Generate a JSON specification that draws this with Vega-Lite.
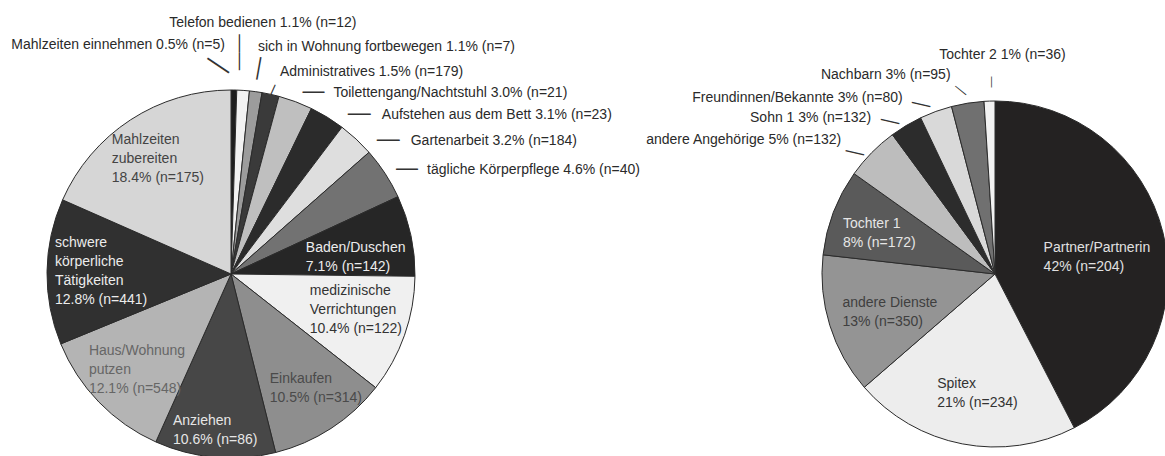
{
  "$schema": "https://vega.github.io/schema/vega-lite/v6.json",
  "background": "white",
  "padding": {"top": 14, "left": 0, "right": 0, "bottom": 0},
  "bounds": "flush",
  "spacing": 363,
  "datasets": {
    "left": [
      {"k": 1, "name": "Mahlzeiten einnehmen", "pct": 0.5, "n": 5, "label": "Mahlzeiten einnehmen 0.5% (n=5)"},
      {"k": 2, "name": "Telefon bedienen", "pct": 1.1, "n": 12, "label": "Telefon bedienen 1.1% (n=12)"},
      {"k": 3, "name": "sich in Wohnung fortbewegen", "pct": 1.1, "n": 7, "label": "sich in Wohnung fortbewegen 1.1% (n=7)"},
      {"k": 4, "name": "Administratives", "pct": 1.5, "n": 179, "label": "Administratives 1.5% (n=179)"},
      {"k": 5, "name": "Toilettengang/Nachtstuhl", "pct": 3.0, "n": 21, "label": "Toilettengang/Nachtstuhl 3.0% (n=21)"},
      {"k": 6, "name": "Aufstehen aus dem Bett", "pct": 3.1, "n": 23, "label": "Aufstehen aus dem Bett 3.1% (n=23)"},
      {"k": 7, "name": "Gartenarbeit", "pct": 3.2, "n": 184, "label": "Gartenarbeit 3.2% (n=184)"},
      {"k": 8, "name": "tägliche Körperpflege", "pct": 4.6, "n": 40, "label": "tägliche Körperpflege 4.6% (n=40)"},
      {"k": 9, "name": "Baden/Duschen", "pct": 7.1, "n": 142, "label": "Baden/Duschen\n7.1% (n=142)"},
      {"k": 10, "name": "medizinische Verrichtungen", "pct": 10.4, "n": 122, "label": "medizinische\nVerrichtungen\n10.4% (n=122)"},
      {"k": 11, "name": "Einkaufen", "pct": 10.5, "n": 314, "label": "Einkaufen\n10.5% (n=314)"},
      {"k": 12, "name": "Anziehen", "pct": 10.6, "n": 86, "label": "Anziehen\n10.6% (n=86)"},
      {"k": 13, "name": "Haus/Wohnung putzen", "pct": 12.1, "n": 548, "label": "Haus/Wohnung\nputzen\n12.1% (n=548)"},
      {"k": 14, "name": "schwere körperliche Tätigkeiten", "pct": 12.8, "n": 441, "label": "schwere\nkörperliche\nTätigkeiten\n12.8% (n=441)"},
      {"k": 15, "name": "Mahlzeiten zubereiten", "pct": 18.4, "n": 175, "label": "Mahlzeiten\nzubereiten\n18.4% (n=175)"}
    ],
    "right": [
      {"k": 1, "name": "Partner/Partnerin", "pct": 42, "n": 204, "label": "Partner/Partnerin\n42% (n=204)"},
      {"k": 2, "name": "Spitex", "pct": 21, "n": 234, "label": "Spitex\n21% (n=234)"},
      {"k": 3, "name": "andere Dienste", "pct": 13, "n": 350, "label": "andere Dienste\n13% (n=350)"},
      {"k": 4, "name": "Tochter 1", "pct": 8, "n": 172, "label": "Tochter 1\n8% (n=172)"},
      {"k": 5, "name": "andere Angehörige", "pct": 5, "n": 132, "label": "andere Angehörige 5% (n=132)"},
      {"k": 6, "name": "Sohn 1", "pct": 3, "n": 132, "label": "Sohn 1 3% (n=132)"},
      {"k": 7, "name": "Freundinnen/Bekannte", "pct": 3, "n": 80, "label": "Freundinnen/Bekannte 3% (n=80)"},
      {"k": 8, "name": "Nachbarn", "pct": 3, "n": 95, "label": "Nachbarn 3% (n=95)"},
      {"k": 9, "name": "Tochter 2", "pct": 1, "n": 36, "label": "Tochter 2 1% (n=36)"}
    ]
  },
  "hconcat": [
    {
      "width": 456,
      "height": 368,
      "data": {"name": "left"},
      "encoding": {
        "theta": {"field": "pct", "type": "quantitative", "stack": true},
        "order": {"field": "k", "type": "quantitative"}
      },
      "layer": [
        {
          "mark": {"type": "arc", "stroke": "#2b2b2b", "strokeWidth": 1},
          "encoding": {
            "color": {
              "field": "name", "type": "nominal", "legend": null,
              "scale": {
                "domain": ["Mahlzeiten einnehmen", "Telefon bedienen", "sich in Wohnung fortbewegen", "Administratives", "Toilettengang/Nachtstuhl", "Aufstehen aus dem Bett", "Gartenarbeit", "tägliche Körperpflege", "Baden/Duschen", "medizinische Verrichtungen", "Einkaufen", "Anziehen", "Haus/Wohnung putzen", "schwere körperliche Tätigkeiten", "Mahlzeiten zubereiten"],
                "range": ["#1e1e1e", "#f2f2f2", "#9c9c9c", "#3a3a3a", "#bfbfbf", "#2b2b2b", "#dedede", "#727272", "#262626", "#f0f0f0", "#8e8e8e", "#474747", "#b4b4b4", "#303030", "#d6d6d6"]
              }
            }
          }
        },
        {
          "mark": {"type": "text", "radius": 137, "thetaOffset": -0.003, "align": "left", "dx": -44, "dy": -19, "baseline": "middle", "lineBreak": "\n", "lineHeight": 19},
          "encoding": {
            "text": {"condition": {"test": "indexof(['Mahlzeiten zubereiten','Haus/Wohnung putzen'], datum.name) >= 0", "field": "label"}, "value": ""},
            "color": {"condition": {"test": "datum.name === 'Haus/Wohnung putzen'", "value": "#666666"}, "value": "#444444"}
          }
        },
        {
          "mark": {"type": "text", "radius": 132, "thetaOffset": 0.004, "align": "left", "dx": -44, "dy": -28.5, "baseline": "middle", "lineBreak": "\n", "lineHeight": 19, "color": "#ececec"},
          "encoding": {
            "text": {"condition": {"test": "datum.name === 'schwere körperliche Tätigkeiten'", "field": "label"}, "value": ""}
          }
        },
        {
          "mark": {"type": "text", "radius": 142, "thetaOffset": -0.056, "align": "left", "dx": -45, "dy": -9.5, "baseline": "middle", "lineBreak": "\n", "lineHeight": 19, "color": "#4a4a4a"},
          "encoding": {
            "text": {"condition": {"test": "datum.name === 'Einkaufen'", "field": "label"}, "value": ""}
          }
        },
        {
          "mark": {"type": "text", "radius": 123, "thetaOffset": 0.073, "align": "left", "dx": -47, "dy": -9.5, "baseline": "middle", "lineBreak": "\n", "lineHeight": 19, "color": "#ececec"},
          "encoding": {
            "text": {"condition": {"test": "datum.name === 'Baden/Duschen'", "field": "label"}, "value": ""}
          }
        },
        {
          "mark": {"type": "text", "radius": 127, "thetaOffset": -0.052, "align": "left", "dx": -43, "dy": -19, "baseline": "middle", "lineBreak": "\n", "lineHeight": 19, "color": "#333333"},
          "encoding": {
            "text": {"condition": {"test": "datum.name === 'medizinische Verrichtungen'", "field": "label"}, "value": ""}
          }
        },
        {
          "mark": {"type": "text", "radius": 157, "thetaOffset": 0.021, "align": "left", "dx": -41, "dy": -9.5, "baseline": "middle", "lineBreak": "\n", "lineHeight": 19, "color": "#e6e6e6"},
          "encoding": {
            "text": {"condition": {"test": "datum.name === 'Anziehen'", "field": "label"}, "value": ""}
          }
        },
        {
          "mark": {"type": "text", "radius": 195, "thetaOffset": 0.017, "align": "left", "dx": 31, "baseline": "middle"},
          "encoding": {
            "text": {"condition": {"test": "indexof(['Toilettengang/Nachtstuhl','tägliche Körperpflege'], datum.name) >= 0", "field": "label"}, "value": ""}
          }
        },
        {
          "mark": {"type": "text", "radius": 195, "thetaOffset": 0.017, "align": "left", "dy": -2, "baseline": "middle", "font": "Liberation Sans", "fontSize": 22, "color": "#333333"},
          "encoding": {
            "text": {"condition": {"test": "indexof(['Toilettengang/Nachtstuhl','tägliche Körperpflege'], datum.name) >= 0", "value": "—"}, "value": ""}
          }
        },
        {
          "mark": {"type": "text", "radius": 197, "thetaOffset": 0.085, "align": "left", "dx": 34, "baseline": "middle"},
          "encoding": {
            "text": {"condition": {"test": "indexof(['Aufstehen aus dem Bett','Gartenarbeit'], datum.name) >= 0", "field": "label"}, "value": ""}
          }
        },
        {
          "mark": {"type": "text", "radius": 197, "thetaOffset": 0.085, "align": "left", "dy": -2, "baseline": "middle", "font": "Liberation Sans", "fontSize": 23, "color": "#333333"},
          "encoding": {
            "text": {"condition": {"test": "indexof(['Aufstehen aus dem Bett','Gartenarbeit'], datum.name) >= 0", "value": "—"}, "value": ""}
          }
        },
        {
          "mark": {"type": "text", "radius": 200, "thetaOffset": 0.094, "dy": -54, "align": "center", "baseline": "middle"},
          "encoding": {
            "text": {"condition": {"test": "datum.name === 'Telefon bedienen'", "field": "label"}, "value": ""}
          }
        },
        {
          "mark": {"type": "text", "radius": 222, "thetaOffset": -0.026, "angle": 90, "align": "center", "baseline": "middle", "font": "Liberation Sans", "fontSize": 18, "color": "#333333"},
          "encoding": {
            "text": {"condition": {"test": "datum.name === 'Telefon bedienen'", "value": "——"}, "value": ""}
          }
        },
        {
          "mark": {"type": "text", "radius": 200, "thetaOffset": -0.0457, "dy": -29, "align": "right", "baseline": "middle"},
          "encoding": {
            "text": {"condition": {"test": "datum.name === 'Mahlzeiten einnehmen'", "field": "label"}, "value": ""}
          }
        },
        {
          "mark": {"type": "text", "radius": 210, "thetaOffset": -0.073, "angle": 34, "align": "center", "baseline": "middle", "font": "Liberation Sans", "fontSize": 26, "color": "#333333"},
          "encoding": {
            "text": {"condition": {"test": "datum.name === 'Mahlzeiten einnehmen'", "value": "—"}, "value": ""}
          }
        },
        {
          "mark": {"type": "text", "radius": 200, "thetaOffset": 0.0, "dy": -29, "align": "left", "baseline": "middle"},
          "encoding": {
            "text": {"condition": {"test": "datum.name === 'sich in Wohnung fortbewegen'", "field": "label"}, "value": ""}
          }
        },
        {
          "mark": {"type": "text", "radius": 207.5, "thetaOffset": 0.005, "angle": 100, "align": "center", "baseline": "middle", "font": "Liberation Sans", "fontSize": 23, "color": "#333333"},
          "encoding": {
            "text": {"condition": {"test": "datum.name === 'sich in Wohnung fortbewegen'", "value": "—"}, "value": ""}
          }
        },
        {
          "mark": {"type": "text", "radius": 208, "thetaOffset": 0.021, "align": "left", "baseline": "middle"},
          "encoding": {
            "text": {"condition": {"test": "datum.name === 'Administratives'", "field": "label"}, "value": ""}
          }
        },
        {
          "mark": {"type": "text", "radius": 189, "thetaOffset": 0.007, "angle": 114, "align": "center", "baseline": "middle", "font": "Liberation Sans", "fontSize": 11, "fontWeight": "bold", "color": "#333333"},
          "encoding": {
            "text": {"condition": {"test": "datum.name === 'Administratives'", "value": "—"}, "value": ""}
          }
        }
      ]
    },
    {
      "width": 346,
      "height": 368,
      "data": {"name": "right"},
      "encoding": {
        "theta": {"field": "pct", "type": "quantitative", "stack": true},
        "order": {"field": "k", "type": "quantitative"}
      },
      "layer": [
        {
          "mark": {"type": "arc", "stroke": "#2b2b2b", "strokeWidth": 1},
          "encoding": {
            "color": {
              "field": "name", "type": "nominal", "legend": null,
              "scale": {
                "domain": ["Partner/Partnerin", "Spitex", "andere Dienste", "Tochter 1", "andere Angehörige", "Sohn 1", "Freundinnen/Bekannte", "Nachbarn", "Tochter 2"],
                "range": ["#242222", "#ededed", "#949494", "#5a5a5a", "#bdbdbd", "#2c2c2c", "#d9d9d9", "#707070", "#f2f2f2"]
              }
            }
          }
        },
        {
          "mark": {"type": "text", "radius": 100, "thetaOffset": 0.07, "align": "left", "dx": -50, "dy": -9.5, "baseline": "middle", "lineBreak": "\n", "lineHeight": 19, "color": "#e0e0e0"},
          "encoding": {
            "text": {"condition": {"test": "datum.name === 'Partner/Partnerin'", "field": "label"}, "value": ""}
          }
        },
        {
          "mark": {"type": "text", "radius": 121, "thetaOffset": -0.026, "align": "left", "dx": -38, "dy": -9.5, "baseline": "middle", "lineBreak": "\n", "lineHeight": 19},
          "encoding": {
            "text": {"condition": {"test": "indexof(['Spitex','andere Dienste','Tochter 1'], datum.name) >= 0", "field": "label"}, "value": ""},
            "color": {"condition": [
              {"test": "datum.name === 'Tochter 1'", "value": "#e6e6e6"},
              {"test": "datum.name === 'andere Dienste'", "value": "#3f3f3f"}
            ], "value": "#333333"}
          }
        },
        {
          "mark": {"type": "text", "radius": 204, "thetaOffset": -0.061, "align": "right", "baseline": "middle"},
          "encoding": {
            "text": {"condition": {"test": "indexof(['andere Angehörige','Nachbarn'], datum.name) >= 0", "field": "label"}, "value": ""}
          }
        },
        {
          "mark": {"type": "text", "radius": 199, "thetaOffset": -0.133, "align": "right", "baseline": "middle"},
          "encoding": {
            "text": {"condition": {"test": "indexof(['Sohn 1','Freundinnen/Bekannte'], datum.name) >= 0", "field": "label"}, "value": ""}
          }
        },
        {
          "mark": {"type": "text", "radius": 219, "thetaOffset": 0.066, "align": "center", "baseline": "middle"},
          "encoding": {
            "text": {"condition": {"test": "datum.name === 'Tochter 2'", "field": "label"}, "value": ""}
          }
        },
        {
          "mark": {"type": "text", "radius": 186, "thetaOffset": -0.058, "angle": 13, "align": "center", "baseline": "middle", "font": "Liberation Sans", "fontSize": 19, "color": "#333333"},
          "encoding": {
            "text": {"condition": {"test": "indexof(['andere Angehörige','Sohn 1','Freundinnen/Bekannte'], datum.name) >= 0", "value": "—"}, "value": ""}
          }
        },
        {
          "mark": {"type": "text", "radius": 187, "thetaOffset": -0.024, "angle": 39, "align": "center", "baseline": "middle", "font": "Liberation Sans", "fontSize": 14, "color": "#333333"},
          "encoding": {
            "text": {"condition": {"test": "datum.name === 'Nachbarn'", "value": "—"}, "value": ""}
          }
        },
        {
          "mark": {"type": "text", "radius": 192, "thetaOffset": 0.016, "angle": 90, "align": "center", "baseline": "middle", "font": "Liberation Sans", "fontSize": 11, "color": "#333333"},
          "encoding": {
            "text": {"condition": {"test": "datum.name === 'Tochter 2'", "value": "—"}, "value": ""}
          }
        }
      ]
    }
  ],
  "resolve": {"scale": {"theta": "independent", "color": "independent"}},
  "config": {
    "view": {"stroke": null},
    "text": {"font": "Liberation Sans", "fontSize": 14, "color": "#2a2a2a"}
  }
}
